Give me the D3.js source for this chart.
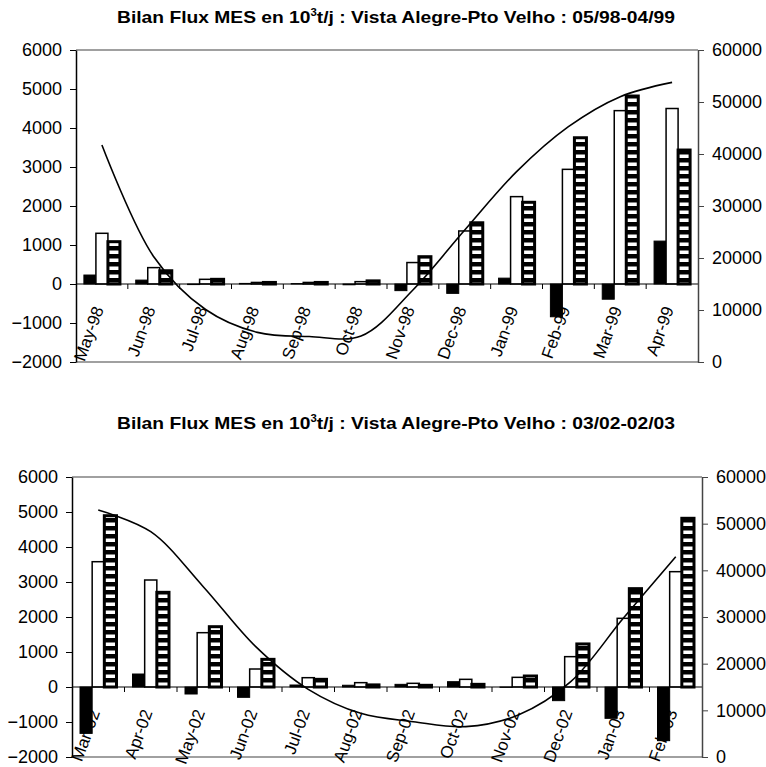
<!DOCTYPE html>
<html>
<head>
<meta charset="utf-8">
<script src="https://cdn.jsdelivr.net/npm/d3@7"></script>
<style>
  body { margin: 0; background: #fff; }
  svg { display: block; font-family: "Liberation Sans", Arial, sans-serif; }
</style>
</head>
<body>
<svg id="chart" width="766" height="767"></svg>
<script>
// data (left axis = bars, right axis = line)
const months1 = ["May-98", "Jun-98", "Jul-98", "Aug-98", "Sep-98", "Oct-98", "Nov-98", "Dec-98", "Jan-99", "Feb-99", "Mar-99", "Apr-99"];
const bilan1 = [230, 100, -15, 15, 10, -20, -170, -240, 150, -840, -390, 1100];
const amont1 = [1300, 420, 120, 40, 40, 60, 550, 1360, 2240, 2940, 4445, 4500];
const aval1 = [1085, 340, 120, 40, 40, 80, 700, 1570, 2095, 3750, 4820, 3435];
const debit1 = [41730, 20250, 10100, 5700, 4900, 5000, 13850, 25380, 36600, 45250, 51030, 53780];

const months2 = ["Mar-02", "Apr-02", "May-02", "Jun-02", "Jul-02", "Aug-02", "Sep-02", "Oct-02", "Nov-02", "Dec-02", "Jan-03", "Feb-03"];
const bilan2 = [-1325, 371, -200, -295, 57, 50, 76, 152, -10, -390, -895, -1533];
const amont2 = [3580, 3057, 1552, 514, 266, 124, 105, 219, 276, 867, 1962, 3295];
const aval2 = [4894, 2705, 1723, 790, 219, 60, 48, 76, 314, 1230, 2810, 4820];
const debit2 = [52930, 48280, 36500, 23640, 14500, 9360, 7570, 6500, 9000, 16140, 29720, 42920];

const leftTicks = [-2000, -1000, 0, 1000, 2000, 3000, 4000, 5000, 6000];
const rightTicks = [0, 10000, 20000, 30000, 40000, 50000, 60000];

const svg = d3.select("#chart");

// horizontal stripes for the third series
const defs = svg.append("defs");
const pat = defs.append("pattern")
    .attr("id", "stripes")
    .attr("patternUnits", "userSpaceOnUse")
    .attr("width", 8).attr("height", 8);
pat.append("rect").attr("width", 8).attr("height", 8).attr("fill", "#000");
pat.append("rect").attr("y", 2.5).attr("width", 8).attr("height", 3.5).attr("fill", "#fff");

function drawTitle(y, period) {
    const t = svg.append("text")
        .attr("x", 396).attr("y", y)
        .attr("text-anchor", "middle")
        .attr("textLength", 558).attr("lengthAdjust", "spacingAndGlyphs")
        .style("font-size", "17px").style("font-weight", "bold");
    t.append("tspan").text("Bilan Flux MES en 10");
    t.append("tspan").text("3").attr("dy", -7).style("font-size", "10px");
    t.append("tspan").text("t/j : Vista Alegre-Pto Velho : " + period).attr("dy", 7);
}

function drawChart(box, months, bilan, amont, aval, debit) {
    const g = svg.append("g");

    const yL = d3.scaleLinear().domain([-2000, 6000]).range([box.bottom, box.top]);
    const yR = d3.scaleLinear().domain([0, 60000]).range([box.bottom, box.top]);
    const x0 = d3.scaleBand().domain(months).range([box.left, box.right])
        .paddingInner(0.305).paddingOuter(0.1525);
    const x1 = d3.scaleBand().domain([0, 1, 2]).range([0, x0.bandwidth()]);
    const mid = function(m) { return x0(m) + x0.bandwidth() / 2; };

    // plot area frame (top / bottom in grey)
    g.append("line").attr("x1", box.left).attr("x2", box.right)
        .attr("y1", box.top).attr("y2", box.top)
        .attr("stroke", "#808080").attr("stroke-width", 1.5);
    g.append("line").attr("x1", box.left).attr("x2", box.right)
        .attr("y1", box.bottom).attr("y2", box.bottom)
        .attr("stroke", "#808080").attr("stroke-width", 1.5);

    const series = [
        { vals: bilan, fill: "#000", sw: 1 },
        { vals: amont, fill: "#fff", sw: 1.5 },
        { vals: aval, fill: "url(#stripes)", sw: 3 }
    ];
    series.forEach(function(s, i) {
        g.append("g").selectAll("rect")
            .data(months)
            .enter().append("rect")
            .attr("x", function(m) { return x0(m) + x1(i); })
            .attr("width", x1.bandwidth())
            .attr("y", function(m, j) { return yL(Math.max(0, s.vals[j])); })
            .attr("height", function(m, j) { return Math.abs(yL(s.vals[j]) - yL(0)); })
            .attr("fill", s.fill)
            .attr("stroke", "#000")
            .attr("stroke-width", s.sw);
    });

    // category axis on the zero line
    g.append("line").attr("x1", box.left).attr("x2", box.right)
        .attr("y1", yL(0)).attr("y2", yL(0))
        .attr("stroke", "#000").attr("stroke-width", 1.2);
    g.append("g").selectAll("line")
        .data(months.slice(1))
        .enter().append("line")
        .attr("x1", function(m) { return x0(m) - x0.step() * x0.paddingInner() / 2; })
        .attr("x2", function(m) { return x0(m) - x0.step() * x0.paddingInner() / 2; })
        .attr("y1", yL(0)).attr("y2", yL(0) + 5)
        .attr("stroke", "#000");

    g.append("g").selectAll("text")
        .data(months)
        .enter().append("text")
        .attr("transform", function(m) { return "translate(" + (mid(m) + 2) + "," + (yL(0) + 25) + ") rotate(-70)"; })
        .attr("text-anchor", "end")
        .style("font-size", "17px")
        .text(function(m) { return m; });

    // line on the secondary axis
    const line = d3.line()
        .x(function(d, j) { return mid(months[j]); })
        .y(function(d) { return yR(d); })
        .curve(d3.curveCatmullRom.alpha(0.5));
    g.append("path")
        .attr("d", line(debit))
        .attr("fill", "none")
        .attr("stroke", "#000")
        .attr("stroke-width", 1.6);

    // left axis
    const axL = g.append("g")
        .attr("transform", "translate(" + box.left + ",0)")
        .call(d3.axisLeft(yL).tickValues(leftTicks).tickFormat(d3.format("d"))
            .tickSize(6).tickPadding(8).tickSizeOuter(0));
    axL.select(".domain").attr("stroke", "#000").attr("stroke-width", 1.5);
    axL.selectAll(".tick line").attr("stroke", "#000");
    axL.selectAll("text").style("font-size", "18px").attr("fill", "#000")
        .style("font-family", "'Liberation Sans', Arial, sans-serif");

    // right axis
    const axR = g.append("g")
        .attr("transform", "translate(" + box.right + ",0)")
        .call(d3.axisRight(yR).tickValues(rightTicks).tickFormat(d3.format("d"))
            .tickSize(6).tickPadding(8).tickSizeOuter(0));
    axR.select(".domain").attr("stroke", "#444").attr("stroke-width", 1.5);
    axR.selectAll(".tick line").attr("stroke", "#444");
    axR.selectAll("text").style("font-size", "18px").attr("fill", "#000")
        .style("font-family", "'Liberation Sans', Arial, sans-serif");
}

drawTitle(23, "05/98-04/99");
drawChart({ left: 76, right: 698, top: 50, bottom: 362 }, months1, bilan1, amont1, aval1, debit1);

drawTitle(429, "03/02-02/03");
drawChart({ left: 72, right: 702, top: 477, bottom: 757 }, months2, bilan2, amont2, aval2, debit2);
</script>
</body>
</html>
